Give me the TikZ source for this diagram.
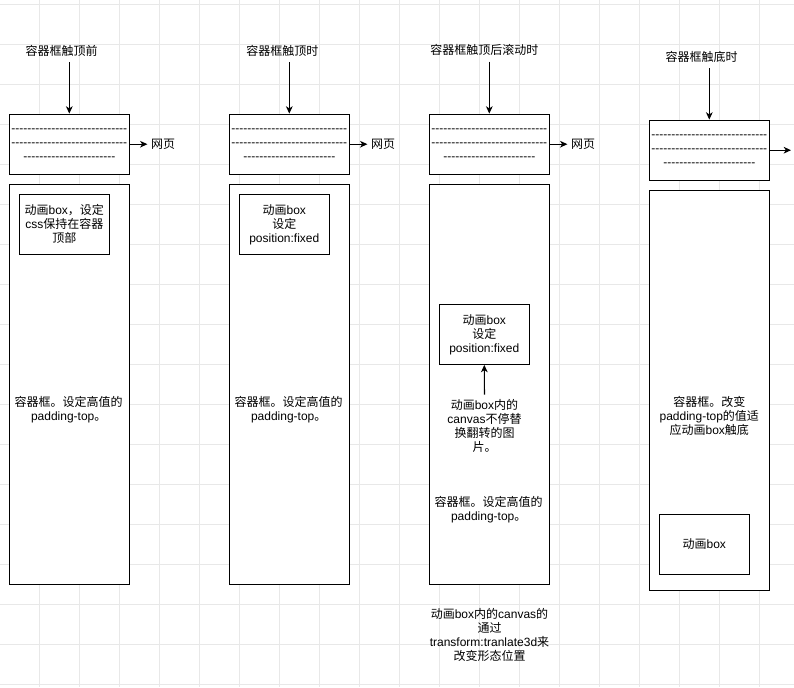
\documentclass[tikz,border=0pt]{standalone}
\usepackage{fontspec}
\setmainfont{Liberation Sans}
\newfontfamily\zhfont{Noto Sans CJK SC}
\usetikzlibrary{arrows.meta}
\newcommand\Z[1]{{\zhfont #1}}
\newcommand\hy[1]{\foreach \i in {1,...,#1}{-\kern0pt}}
\tikzset{
  every node/.style={font=\fontsize{9}{10.5}\selectfont},
  gridline/.style={draw=black!9, line width=0.75pt},
  box/.style={draw, line width=0.9pt, inner sep=0pt, align=center, fill=white},
  hdr/.style={box, minimum width=90pt, minimum height=45pt},
  big/.style={box, minimum width=90pt, minimum height=300pt},
  inbox/.style={box, minimum width=67.5pt, minimum height=45pt},
  lbl/.style={align=center, inner sep=0pt},
  ttl/.style={inner xsep=0pt, inner ysep=3pt, text height=7pt, text depth=2pt},
  web/.style={inner sep=2.5pt},
  arr/.style={line width=0.8pt, -{Stealth[length=5.5pt,width=5pt,inset=1.6pt]}},
}
\begin{document}
\begin{tikzpicture}[x=0.75pt,y=-0.75pt]
\useasboundingbox (0,0) rectangle (794,687);
\fill[white] (0,0) rectangle (794,687);
\foreach \k in {0,...,18} \draw[gridline] (39.3+40*\k,0) -- (39.3+40*\k,687);
\foreach \k in {0,...,17} \draw[gridline] (0,4.3+40*\k) -- (794,4.3+40*\k);

% column 1
\node[ttl] (t1) at (61.7,51.9) {\Z{容器框触顶前}};
\node[hdr] (h1) at (69.3,144.2) {\hy{29}\\\hy{29}\\\hy{23}};
\node[web] (w1) at (163,144.2) {\Z{网页}};
\node[big] (b1) at (69.3,384.2) {};
\node[inbox] (i1) at (64.3,224.3) {\Z{动画}box\Z{，设定}\\css\Z{保持在容器}\\\Z{顶部}};
\node[lbl] (l1) at (68.7,409.5) {\Z{容器框。设定高值的}\\padding-top\Z{。}};
\draw[arr] (t1.south -| h1.north) -- (h1.north);
\draw[arr] (h1.east) -- (w1.west);

% column 2
\node[ttl] (t2) at (282.3,51.9) {\Z{容器框触顶时}};
\node[hdr] (h2) at (289.3,144.2) {\hy{29}\\\hy{29}\\\hy{23}};
\node[web] (w2) at (383,144.2) {\Z{网页}};
\node[big] (b2) at (289.3,384.2) {};
\node[inbox] (i2) at (284.3,224.3) {\Z{动画}box\\\Z{设定}\\position:fixed};
\node[lbl] (l2) at (288.7,409.5) {\Z{容器框。设定高值的}\\padding-top\Z{。}};
\draw[arr] (t2.south -| h2.north) -- (h2.north);
\draw[arr] (h2.east) -- (w2.west);

% column 3
\node[ttl] (t3) at (484.3,51.4) {\Z{容器框触顶后滚动时}};
\node[hdr] (h3) at (489.3,144.2) {\hy{29}\\\hy{29}\\\hy{23}};
\node[web] (w3) at (583,144.2) {\Z{网页}};
\node[big] (b3) at (489.3,384.2) {};
\node[inbox] (i3) at (484.3,334.3) {\Z{动画}box\\\Z{设定}\\position:fixed};
\node[lbl, inner sep=3pt] (c3) at (484.5,425.5) {\Z{动画}box\Z{内的}\\canvas\Z{不停替}\\\Z{换翻转的图}\\\Z{片。}};
\node[lbl] (l3) at (488.7,510) {\Z{容器框。设定高值的}\\padding-top\Z{。}};
\node[lbl] (n3) at (489.5,634.5) {\Z{动画}box\Z{内的}canvas\Z{的}\\\Z{通过}\\transform:tranlate3d\Z{来}\\\Z{改变形态位置}};
\draw[arr] (t3.south -| h3.north) -- (h3.north);
\draw[arr] (h3.east) -- (w3.west);
\draw[arr] (c3.north) -- (i3.south);

% column 4
\node[ttl] (t4) at (701.7,57.9) {\Z{容器框触底时}};
\node[hdr] (h4) at (709.3,150.2) {\hy{29}\\\hy{29}\\\hy{23}};
\coordinate (e4) at (791,150.2);
\node[big] (b4) at (709.3,390.2) {};
\node[inbox] (i4) at (704.3,544.3) {\Z{动画}box};
\node[lbl] (l4) at (709.3,416) {\Z{容器框。改变}\\padding-top\Z{的值适}\\\Z{应动画}box\Z{触底}};
\draw[arr] (t4.south -| h4.north) -- (h4.north);
\draw[arr] (h4.east) -- (e4);
\end{tikzpicture}
\end{document}
